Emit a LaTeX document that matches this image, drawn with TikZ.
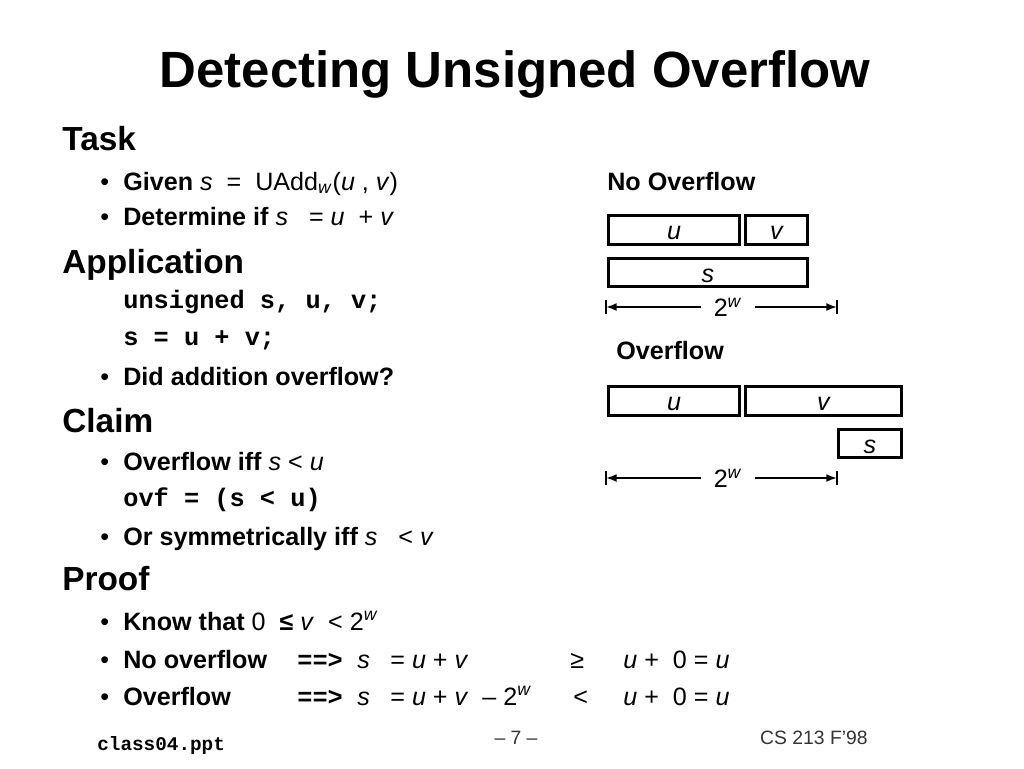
\documentclass[tikz,border=0pt]{standalone}
\usepackage{fontspec}
\setmainfont{Liberation Sans}
\setmonofont{Liberation Mono}
\usetikzlibrary{arrows.meta}
\begin{document}
\begin{tikzpicture}[x=0.02cm,y=-0.02cm,
  txt/.style={anchor=base west,inner sep=0,font=\fontsize{14.3}{16}\selectfont},
  head/.style={anchor=base west,inner sep=0,font=\fontsize{19}{23}\selectfont\bfseries},
  code/.style={anchor=base west,inner sep=0,font=\fontsize{14.4}{16}\selectfont\ttfamily\bfseries},
  box/.style={draw=black,line width=1.5pt,inner sep=0,outer sep=0,minimum height=0.59cm,
    text height=11pt,text depth=0pt,font=\fontsize{14.3}{16}\selectfont\itshape},
  dim/.style={line width=1.1pt},
  tip/.style={-{Latex[length=6pt,width=4.5pt]}},
  foot/.style={anchor=base,inner sep=0,text=black!80,font=\fontsize{11}{13}\selectfont}]
\useasboundingbox (0,0) rectangle (1024,768);

% title
\node[anchor=base,inner sep=0,font=\fontsize{29}{34}\selectfont\bfseries] (title) at (515,87) {Detecting Unsigned Overflow};

% left column
\node[head] (task) at (62,150) {Task};
\node[txt] (b1) at (100,190) {\textbullet};
\node[txt] (given) at (123,190) {\textbf{Given} \textit{s} \ = \ UAdd\textsubscript{\textit{w}}(\textit{u} , \textit{v})};
\node[txt] (b2) at (100,225) {\textbullet};
\node[txt] (det) at (123,225) {\textbf{Determine if} \textit{s} \ \ = \textit{u} \ + \textit{v}};

\node[head] (app) at (62,273) {Application};
\node[code] (decl) at (123,308) {unsigned s, u, v;};
\node[code] (sum) at (123,345) {s = u + v;};
\node[txt] (b3) at (100,385) {\textbullet};
\node[txt] (did) at (123,385) {\textbf{Did addition overflow?}};

\node[head] (claim) at (62,432) {Claim};
\node[txt] (b4) at (100,470) {\textbullet};
\node[txt] (iff) at (123,470) {\textbf{Overflow iff} \textit{s} < \textit{u}};
\node[code] (ovf) at (123,506) {ovf = (s < u)};
\node[txt] (b5) at (100,545) {\textbullet};
\node[txt] (sym) at (123,545) {\textbf{Or symmetrically iff} \textit{s} \ \ < \textit{v}};

\node[head] (proof) at (62,590) {Proof};
\node[txt] (b6) at (100,630) {\textbullet};
\node[txt] (know) at (123,630) {\textbf{Know that} 0 \ \textbf{≤} \textit{v} \ < 2\textsuperscript{\textit{w}}};
\node[txt] (b7) at (100,668) {\textbullet};
\node[txt] (nov) at (123,668) {\textbf{No overflow}};
\node[code] (imp1) at (297,668) {==>};
\node[txt] (s1) at (357,668) {\textit{s}};
\node[txt] (eq1) at (390,668) {= \textit{u} + \textit{v}};
\node[txt] (ge) at (570,668) {≥};
\node[txt] (r1) at (623,668) {\textit{u} + \ 0 = \textit{u}};
\node[txt] (b8) at (100,705) {\textbullet};
\node[txt] (ov) at (123,705) {\textbf{Overflow}};
\node[code] (imp2) at (297,705) {==>};
\node[txt] (s2) at (357,705) {\textit{s}};
\node[txt] (eq2) at (390,705) {= \textit{u} + \textit{v} \ – 2\textsuperscript{\textit{w}}};
\node[txt] (lt) at (573,705) {<};
\node[txt] (r2) at (623,705) {\textit{u} + \ 0 = \textit{u}};

% no overflow diagram
\node[txt,font=\fontsize{14.3}{16}\selectfont\bfseries] (nolbl) at (607,190) {No Overflow};
\node[box,minimum width=2.63cm] (u1) at (674,230) {u};
\node[box,minimum width=1.25cm] (v1) at (776.5,230) {v};
\node[box,minimum width=3.99cm,minimum height=0.57cm] (s1box) at (708,272.5) {s};
\coordinate (l1) at (606,307);
\coordinate (e1) at (837,307);
\node[inner xsep=7pt,inner ysep=0,font=\fontsize{14.3}{16}\selectfont] (w1) at (728,307) {2\textsuperscript{\textit{w}}};
\draw[dim,tip] (w1) -- (l1);
\draw[dim,tip] (w1) -- (e1);
\draw[dim] (l1) ++(0,-7) -- ++(0,14);
\draw[dim] (e1) ++(0,-7) -- ++(0,14);

% overflow diagram
\node[txt,font=\fontsize{14.3}{16}\selectfont\bfseries] (ovlbl) at (616,359) {Overflow};
\node[box,minimum width=2.63cm] (u2) at (674,401) {u};
\node[box,minimum width=3.13cm] (v2) at (823.5,401) {v};
\node[box,minimum width=1.27cm,minimum height=0.57cm] (s2box) at (870,443.5) {s};
\coordinate (l2) at (606,478);
\coordinate (e2) at (837,478);
\node[inner xsep=7pt,inner ysep=0,font=\fontsize{14.3}{16}\selectfont] (w2) at (728,478) {2\textsuperscript{\textit{w}}};
\draw[dim,tip] (w2) -- (l2);
\draw[dim,tip] (w2) -- (e2);
\draw[dim] (l2) ++(0,-7) -- ++(0,14);
\draw[dim] (e2) ++(0,-7) -- ++(0,14);

% footer
\node[code,font=\fontsize{11}{13}\selectfont\ttfamily\bfseries] (file) at (97,750) {class04.ppt};
\node[foot] (page) at (516,744) {– 7 –};
\node[foot,anchor=base east] (course) at (868,744) {CS 213 F’98};
\end{tikzpicture}
\end{document}
